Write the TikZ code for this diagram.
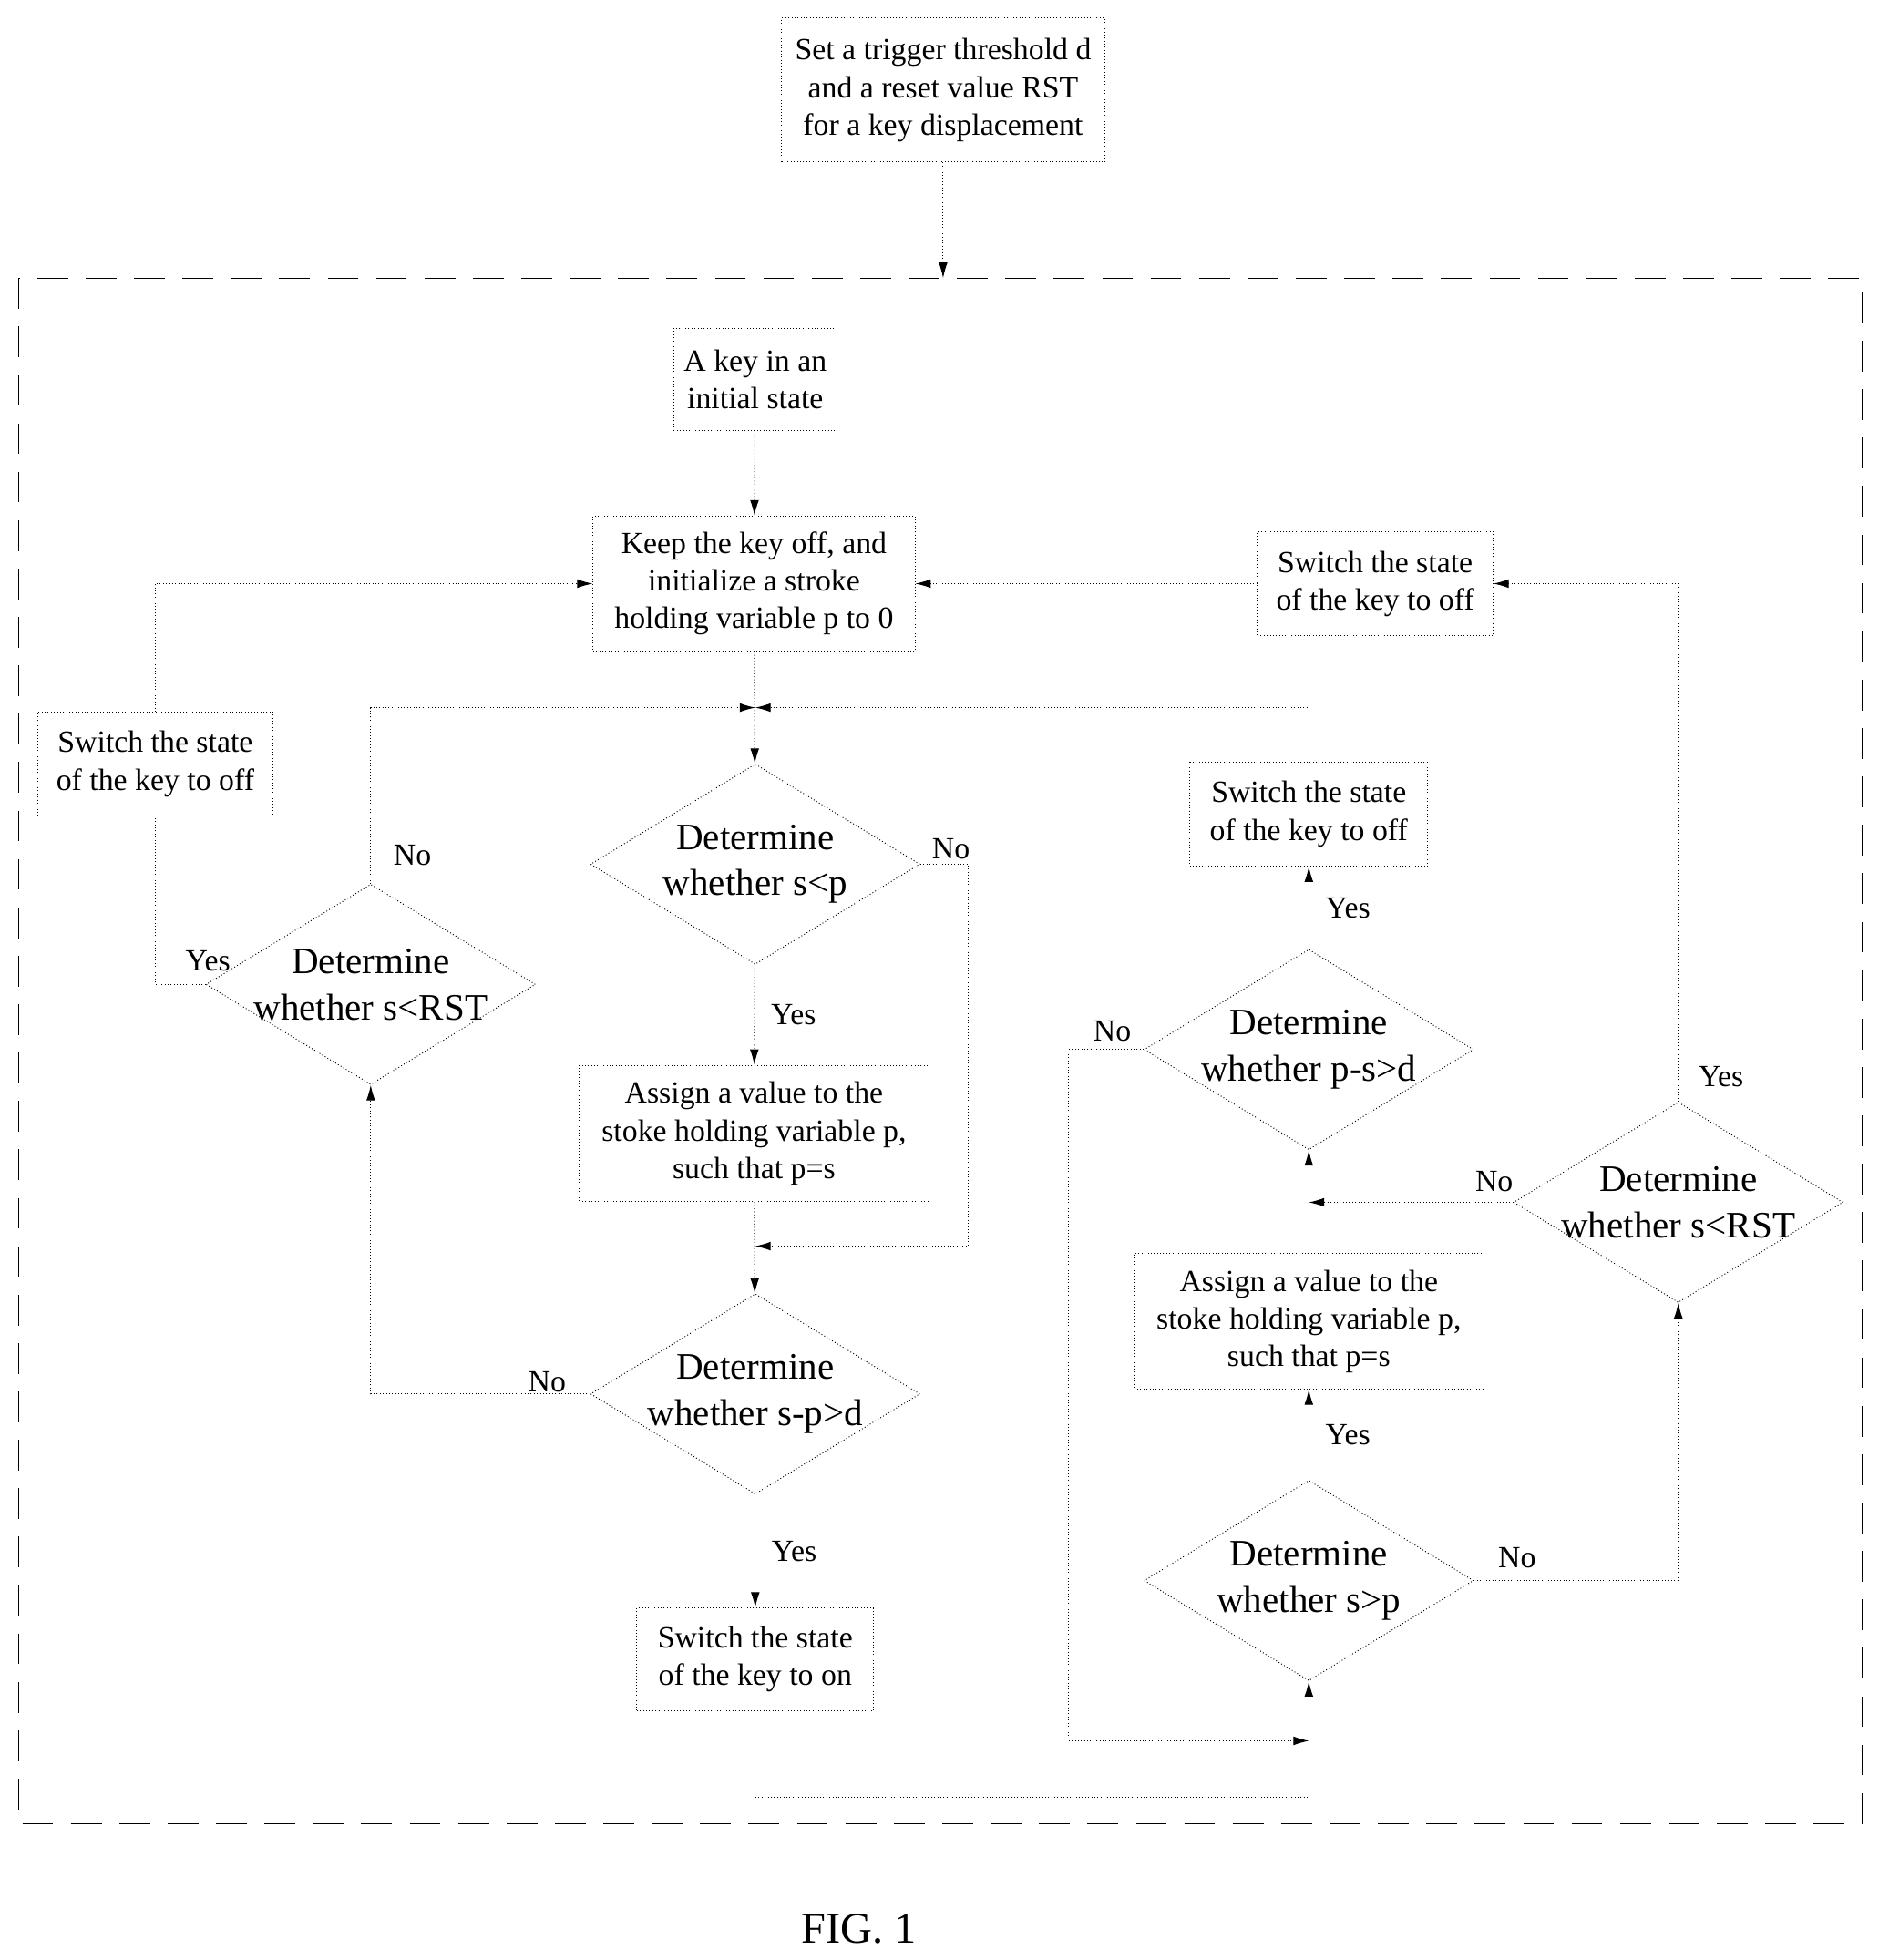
\documentclass[tikz,border=0pt]{standalone}
\usepackage{fontspec}
\setmainfont{Liberation Serif}
\usetikzlibrary{positioning,arrows.meta,shapes.geometric,calc}

\begin{document}
\begin{tikzpicture}[
    x=0.02cm, y=-0.02cm,
    % boxes and decisions
    procbox/.style={rectangle, draw, densely dotted, align=center, font=\fontsize{14}{17}\selectfont, inner sep=4pt},
    decide/.style={diamond, draw, densely dotted, minimum width=5.26cm, minimum height=3.2cm, inner sep=0pt,
      label={[align=center, font=\fontsize{17}{21}\selectfont]center:#1}},
    arrow/.style={-{Latex[length=7pt,width=4pt]}, densely dotted, thin},
    link/.style={densely dotted, thin},
    lbl/.style={font=\fontsize{14}{17}\selectfont}
    ]
    \useasboundingbox (0,0) rectangle (1500,1565);

    % outer frame
    \draw[dashed, dash pattern=on 14pt off 8pt] (15,222) rectangle (1487,1456);
    \coordinate (frametop) at (753,222);

    % Nodes
    \node[procbox, minimum width=5.16cm, minimum height=2.3cm] (setup) at (753,72) {Set a trigger threshold d\\and a reset value RST\\for a key displacement};
    \node[procbox, minimum width=2.6cm, minimum height=1.64cm] (init) at (603,303) {A key in an\\initial state};
    \node[procbox, minimum width=5.14cm, minimum height=2.16cm] (keep) at (602,466) {Keep the key off, and\\initialize a stroke\\holding variable p to 0};
    \node[procbox, minimum width=3.76cm, minimum height=1.66cm] (offleft) at (124,610) {Switch the state\\of the key to off};
    \node[procbox, minimum width=3.76cm, minimum height=1.66cm] (offright) at (1098,466) {Switch the state\\of the key to off};
    \node[decide={Determine\\whether s<p}] (sltp) at (603,690) {};
    \node[decide={Determine\\whether s<RST}] (srstL) at (296,786) {};
    \node[procbox, minimum width=5.58cm, minimum height=2.18cm] (assignL) at (602,905) {Assign a value to the\\stoke holding variable p,\\such that p=s};
    \node[decide={Determine\\whether s-p>d}] (spd) at (603,1113) {};
    \node[procbox, minimum width=3.78cm, minimum height=1.64cm] (on) at (603,1325) {Switch the state\\of the key to on};
    \node[procbox, minimum width=3.8cm, minimum height=1.66cm] (offmid) at (1045,650) {Switch the state\\of the key to off};
    \node[decide={Determine\\whether p-s>d}] (psd) at (1045,838) {};
    \node[procbox, minimum width=5.58cm, minimum height=2.16cm] (assignR) at (1045,1055) {Assign a value to the\\stoke holding variable p,\\such that p=s};
    \node[decide={Determine\\whether s>p}] (sgtp) at (1045,1262) {};
    \node[decide={Determine\\whether s<RST}] (srstR) at (1340,960) {};
    \node[font=\fontsize{20}{24}\selectfont] (fig) at (686,1540) {FIG. 1};

    % junction points
    \coordinate (jtop) at (603,565);
    \coordinate (jmid) at (603,995);
    \coordinate (jbot) at (1045,1390);
    \coordinate (jright) at (1045,960);

    % Arrows
    \draw[arrow] (setup) -- (frametop);
    \draw[arrow] (init) -- (keep);
    \draw[arrow] (keep) -- (sltp);
    \draw[arrow] (sltp) -- node[lbl, right=4pt] {Yes} (assignL);
    \draw[arrow] (sltp.east) -- (773,690) -- (773,995) -- (jmid);
    \node[lbl, anchor=south west] at (738,692) {No};
    \draw[arrow] (assignL) -- (spd);
    \draw[arrow] (spd) -- node[lbl, right=4pt] {Yes} (on);
    \draw[arrow] (spd.west) -- (296,1113) -- (srstL.south);
    \node[lbl, anchor=south east] at (458,1118) {No};
    \draw[arrow] (srstL.north) -- (296,565) -- (jtop);
    \node[lbl, anchor=west] at (308,683) {No};
    \draw[link] (srstL.west) -- (124,786) -- (offleft.south);
    \node[lbl, anchor=south west] at (142,782) {Yes};
    \draw[arrow] (offleft.north) -- (124,466) -- (keep.west);
    \draw[arrow] (on.south) -- (603,1435) -- (1045,1435) -- (sgtp.south);
    \draw[arrow] (sgtp) -- node[lbl, right=4pt] {Yes} (assignR);
    \draw[arrow] (assignR) -- (psd);
    \draw[arrow] (psd) -- node[lbl, right=4pt] {Yes} (offmid);
    \draw[arrow] (offmid.north) -- (1045,565) -- (jtop);
    \draw[arrow] (psd.west) -- (853,838) -- (853,1390) -- (jbot);
    \node[lbl, anchor=south] at (888,838) {No};
    \draw[arrow] (sgtp.east) -- (1340,1262) -- (srstR.south);
    \node[lbl, anchor=south west] at (1190,1258) {No};
    \draw[arrow] (srstR.west) -- (jright);
    \node[lbl, anchor=south] at (1193,958) {No};
    \draw[arrow] (srstR.north) -- (1340,466) -- (offright.east);
    \node[lbl, anchor=west] at (1350,860) {Yes};
    \draw[arrow] (offright.west) -- (keep.east);
\end{tikzpicture}
\end{document}
